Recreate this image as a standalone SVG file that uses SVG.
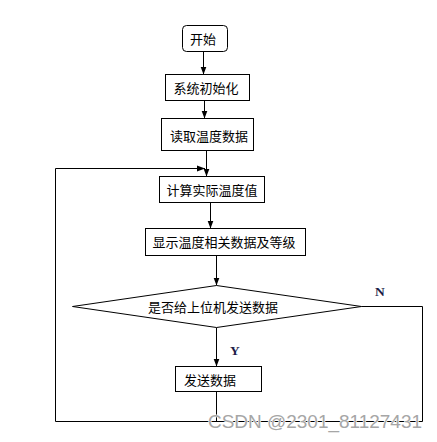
<svg xmlns="http://www.w3.org/2000/svg" width="437" height="442" viewBox="0 0 437 442">
<defs>
<style>
.box{fill:#fff;stroke:#000;stroke-width:1}
.ln{fill:none;stroke:#000;stroke-width:1}
.t{font-family:"Liberation Sans","Noto Sans CJK SC",sans-serif;font-size:13px;fill:#000;text-anchor:middle;dominant-baseline:central}
.yn{font-family:"Liberation Serif",serif;font-weight:bold;font-size:13.5px;fill:#1c1c48}
.wm{font-family:"Liberation Sans",Arial,sans-serif;font-size:18px;fill:#a6a6a6;stroke:#fff;stroke-width:1.2px;paint-order:stroke}
</style>
<marker id="ah" viewBox="0 0 8 8" refX="8" refY="4" markerWidth="8" markerHeight="8" markerUnits="userSpaceOnUse" orient="auto">
<path d="M0,1 L8,4 L0,7 Z" fill="#000"/>
</marker>
</defs>
<rect width="437" height="442" fill="#fff"/>
<g id="connectors">
<line class="ln" x1="203.5" y1="51.5" x2="203.5" y2="74.5" marker-end="url(#ah)"/>
<line class="ln" x1="204.5" y1="100.5" x2="204.5" y2="118.5" marker-end="url(#ah)"/>
<line class="ln" x1="206.5" y1="150.5" x2="206.5" y2="176.5" marker-end="url(#ah)"/>
<line class="ln" x1="55.5" y1="168.5" x2="205" y2="168.5" marker-end="url(#ah)"/>
<line class="ln" x1="210.5" y1="202.5" x2="210.5" y2="228.5" marker-end="url(#ah)"/>
<line class="ln" x1="216.5" y1="255.5" x2="216.5" y2="285.5" marker-end="url(#ah)"/>
<line class="ln" x1="216.5" y1="327.5" x2="216.5" y2="366.5" marker-end="url(#ah)"/>
<polyline class="ln" points="216.5,391.5 216.5,421.5"/>
<polyline class="ln" points="361.5,306.5 422.5,306.5 422.5,421.5 55.5,421.5 55.5,168.5"/>
<text class="yn" x="230" y="355">Y</text>
<text class="yn" x="375" y="296">N</text>
</g>
<g id="start">
<rect class="box" x="182.5" y="25.5" width="45" height="26" rx="4"/>
<text class="t" x="203" y="39">开始</text>
</g>
<g id="init">
<rect class="box" x="165.5" y="74.5" width="84" height="26"/>
<text class="t" x="206" y="88">系统初始化</text>
</g>
<g id="read">
<rect class="box" x="161.5" y="118.5" width="92" height="32"/>
<text class="t" x="209" y="136">读取温度数据</text>
</g>
<g id="calc">
<rect class="box" x="159.5" y="176.5" width="105" height="26"/>
<text class="t" x="212" y="190">计算实际温度值</text>
</g>
<g id="show">
<rect class="box" x="145.5" y="228.5" width="160" height="27"/>
<text class="t" x="224" y="242.5">显示温度相关数据及等级</text>
</g>
<g id="decide">
<polygon class="box" points="72.5,306.5 216.5,285.5 361.5,306.5 216.5,327.5"/>
<text class="t" x="213" y="307">是否给上位机发送数据</text>
</g>
<g id="send">
<rect class="box" x="175.5" y="366.5" width="86" height="25"/>
<text class="t" x="210" y="380">发送数据</text>
</g>
<text class="wm" x="208" y="428" textLength="214" lengthAdjust="spacingAndGlyphs">CSDN @2301_81127431</text>
</svg>
